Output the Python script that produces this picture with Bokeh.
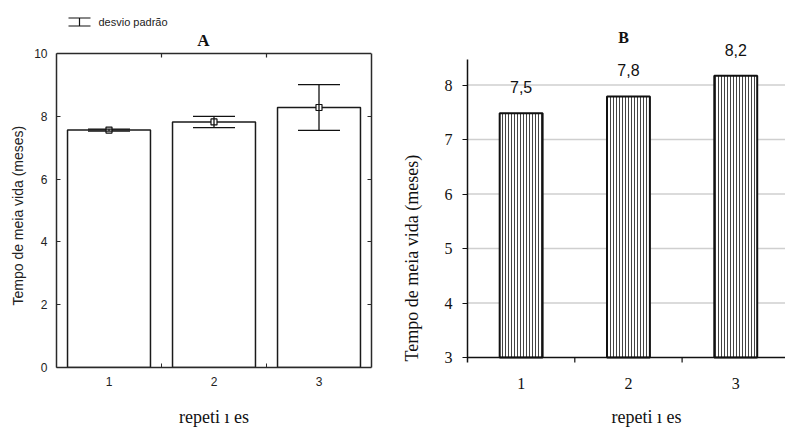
import math
from bokeh.plotting import figure
from bokeh.layouts import row
from bokeh.models import (FixedTicker, LinearAxis, Label, Whisker, TeeHead, Span, Title,
                          ColumnDataSource, CustomJSTickFormatter, Range1d)
from bokeh.core.properties import value
from bokeh.embed import file_html
from bokeh.resources import INLINE

# ---------------- data ----------------
categories = [1, 2, 3]
cat_labels = ["1", "2", "3"]
boundaries = [1.5, 2.5]
# Panel A: mean half-life (months) and standard deviation
means_a = [7.56, 7.82, 8.28]
sd_a = [0.03, 0.18, 0.73]
yticks_a = [0, 2, 4, 6, 8, 10]
# Panel B: mean half-life (months)
means_b = [7.48, 7.79, 8.17]
yticks_b = [3, 4, 5, 6, 7, 8]

ylabel = "Tempo de meia vida (meses)"
xlabel = "repeti ı es"
legend_text = "desvio padrão"

SANS = "Liberation Sans"
SERIF = "Liberation Serif"
AX = "#2a2a2a"
H = 432
FRAME_TOP = 5          # shared frame top (both plots)
FRAME_BOTTOM = 367     # shared frame bottom (both plots)

empty_fmt = CustomJSTickFormatter(code="return ''")

def side_title(text, font, size, align, offset, standoff, color="#111111"):
    return Title(text=text, text_font=font, text_font_size=size, text_font_style="normal",
                 text_color=color, align=align, offset=offset, standoff=standoff,
                 vertical_align="middle")

def spacer_axis(px, at):
    # an invisible axis that only reserves px pixels in a side panel
    s = LinearAxis(ticker=FixedTicker(ticks=[at], minor_ticks=[]), formatter=empty_fmt)
    s.axis_line_color = None
    s.major_tick_line_color = None
    s.minor_tick_line_color = None
    s.major_tick_in = 0
    s.major_tick_out = px
    s.minor_tick_out = 0
    s.major_label_standoff = 0
    return s

# ---------------- Panel A ----------------
WA = 392
A_left, A_right = 56, 371
A_axis_top, A_axis_bottom = 53, 367
A_ppu = (A_axis_bottom - A_axis_top) / 10.0
A_ppc = (A_right - A_left) / 3.0

def ax_(px):
    return 0.5 + (px - A_left) / A_ppc

def ay_(py):
    return (A_axis_bottom - py) / A_ppu

pa = figure(width=WA, height=H, output_backend="svg", toolbar_location=None,
            x_range=Range1d(0.5, 3.5), y_range=Range1d(0, ay_(FRAME_TOP)),
            min_border_left=A_left, min_border_right=WA - A_right,
            min_border_top=FRAME_TOP, min_border_bottom=H - FRAME_BOTTOM,
            x_axis_type=None, y_axis_type=None)
pa.grid.visible = False
pa.outline_line_color = None

src_a = ColumnDataSource(dict(x=categories, top=means_a,
                              upper=[m + s for m, s in zip(means_a, sd_a)],
                              lower=[m - s for m, s in zip(means_a, sd_a)]))
pa.vbar(x="x", top="top", bottom=0, width=0.79, source=src_a,
        fill_color="white", line_color="#1a1a1a", line_width=1.5)
pa.add_layout(Whisker(base="x", upper="upper", lower="lower", source=src_a, level="overlay",
                      line_color="#111111", line_width=1.3,
                      upper_head=TeeHead(size=42, line_color="#111111", line_width=1.3),
                      lower_head=TeeHead(size=42, line_color="#111111", line_width=1.3)))
pa.scatter(x="x", y="top", source=src_a, marker="square", size=6, level="overlay",
           fill_color="white", line_color="#111111", line_width=1.2)

# frame top border and inner ticks on it
ymax_a = yticks_a[-1]
pa.segment(x0=[0.5], y0=[ymax_a], x1=[3.5], y1=[ymax_a], line_color=AX, line_width=1.5)
pa.segment(x0=boundaries, y0=[ymax_a] * 2, x1=boundaries,
           y1=[ymax_a - 4 / A_ppu] * 2, line_color=AX, line_width=1.2)

xa = LinearAxis(ticker=FixedTicker(ticks=categories, minor_ticks=boundaries),
                major_label_overrides={c: l for c, l in zip(categories, cat_labels)},
                axis_label=xlabel)
xa.major_tick_in = 0
xa.major_tick_out = 0
xa.minor_tick_in = 4
xa.minor_tick_out = 0
xa.minor_tick_line_color = AX
xa.axis_line_color = AX
xa.axis_line_width = 1.5
xa.major_label_standoff = 9
xa.major_label_text_font = SANS
xa.major_label_text_font_size = "12px"
xa.major_label_text_color = "#222222"
xa.axis_label_text_font = SERIF
xa.axis_label_text_font_size = "18px"
xa.axis_label_text_font_style = "normal"
xa.axis_label_text_color = "#111111"
xa.axis_label_standoff = 18
pa.add_layout(xa, "below")

ya = LinearAxis(ticker=FixedTicker(ticks=yticks_a, minor_ticks=[]), bounds=(0, ymax_a))
ya.major_tick_in = 4
ya.major_tick_out = 0
ya.major_tick_line_color = AX
ya.axis_line_color = AX
ya.axis_line_width = 1.5
ya.major_label_standoff = 9
ya.major_label_text_font = SANS
ya.major_label_text_font_size = "12px"
ya.major_label_text_color = "#222222"
pa.add_layout(ya, "left")
pa.add_layout(side_title(ylabel, SANS, "14px", "left", 62, 10, "#222222"), "left")

ra = LinearAxis(ticker=FixedTicker(ticks=yticks_a[1:-1], minor_ticks=[]),
                formatter=empty_fmt, bounds=(0, ymax_a))
ra.major_tick_in = 4
ra.major_tick_out = 0
ra.major_tick_line_color = AX
ra.axis_line_color = AX
ra.axis_line_width = 1.5
ra.major_label_standoff = 0
pa.add_layout(ra, "right")

# title A and legend (inside the extended frame, above the box)
pa.add_layout(Label(x=ax_(203), y=ay_(40), text="A", text_font=SERIF,
                    text_font_size="17px", text_font_style="bold",
                    text_align="center", text_baseline="middle", text_color="#111111"))
leg_src = ColumnDataSource(dict(x=[ax_(79)], upper=[ay_(17.5)], lower=[ay_(25.5)]))
pa.add_layout(Whisker(base="x", upper="upper", lower="lower", source=leg_src, level="overlay",
                      line_color="#111111", line_width=1.2,
                      upper_head=TeeHead(size=22, line_color="#111111", line_width=1.2),
                      lower_head=TeeHead(size=22, line_color="#111111", line_width=1.2)))
pa.add_layout(Label(x=ax_(98), y=ay_(21.5), text=legend_text, text_font=SANS,
                    text_font_size="11px", text_align="left", text_baseline="middle",
                    text_color="#222222"))

# ---------------- Panel B ----------------
WB = 785 - WA
B_left = 467 - WA
B_axis_y = 357          # pixel row of the y=3 baseline
B_ppu = 54.5
B_ppc = 107.3

def bx_(px):
    return 0.5 + (px - WA - B_left) / B_ppc

def by_(py):
    return 3 + (B_axis_y - py) / B_ppu

pb = figure(width=WB, height=H, output_backend="svg", toolbar_location=None,
            x_range=Range1d(0.5, bx_(785)), y_range=Range1d(by_(FRAME_BOTTOM), by_(FRAME_TOP)),
            min_border_left=B_left, min_border_right=0,
            min_border_top=FRAME_TOP, min_border_bottom=H - FRAME_BOTTOM,
            x_axis_type=None, y_axis_type=None)
pb.outline_line_color = None
pb.xgrid.visible = False
pb.ygrid.visible = False

src_b = ColumnDataSource(dict(x=categories, top=means_b,
                              lab=[f"{v:.1f}".replace(".", ",") for v in means_b]))

# horizontal grid lines
for t in yticks_b[1:]:
    pb.add_layout(Span(location=t, dimension="width", line_color="#cfcfcf",
                       line_width=1.5, level="underlay"))

pb.vbar(x="x", top="top", bottom=yticks_b[0], width=0.4, source=src_b,
        fill_color="white", hatch_pattern="vertical_line", hatch_color="#444444",
        hatch_scale=3, hatch_weight=1, line_color="#111111", line_width=2)
pb.text(x="x", y="top", text="lab", source=src_b, y_offset=-26,
        text_align="center", text_baseline="middle", text_font=value(SANS),
        text_font_size="16px", text_color="#111111")

# x baseline at y=3 with outward ticks at category boundaries
pb.add_layout(Span(location=yticks_b[0], dimension="width", line_color="#111111",
                   line_width=1.5))
pb.segment(x0=boundaries, y0=[yticks_b[0]] * 2, x1=boundaries,
           y1=[yticks_b[0] - 5 / B_ppu] * 2, line_color="#111111", line_width=1.2)

yb = LinearAxis(ticker=FixedTicker(ticks=yticks_b, minor_ticks=[]),
                bounds=(yticks_b[0] - 5 / B_ppu, by_(59)))
yb.major_tick_in = 0
yb.major_tick_out = 5
yb.major_tick_line_color = "#111111"
yb.axis_line_color = "#111111"
yb.axis_line_width = 1.5
yb.major_label_standoff = 10
yb.major_label_text_font = SERIF
yb.major_label_text_font_size = "16px"
yb.major_label_text_color = "#111111"
pb.add_layout(yb, "left")
pb.add_layout(spacer_axis(14, 5), "left")
pb.add_layout(side_title(ylabel, SERIF, "18px", "left", 6, 9), "left")

xb = LinearAxis(ticker=FixedTicker(ticks=categories, minor_ticks=[]),
                major_label_overrides={c: l for c, l in zip(categories, cat_labels)})
xb.axis_line_color = None
xb.major_tick_line_color = None
xb.minor_tick_line_color = None
xb.major_tick_in = 0
xb.major_tick_out = 0
xb.major_label_standoff = 10
xb.major_label_text_font = SERIF
xb.major_label_text_font_size = "16px"
xb.major_label_text_color = "#111111"
pb.add_layout(xb, "below")
pb.add_layout(spacer_axis(14, 2), "below")
pb.add_layout(side_title(xlabel, SERIF, "18px", "left", 144, 0), "below")

pb.add_layout(Label(x=bx_(623), y=by_(37), text="B", text_font=SERIF,
                    text_font_size="16px", text_font_style="bold",
                    text_align="center", text_baseline="middle", text_color="#111111"))

layout = row(pa, pb)
open("out.html", "w").write(file_html(layout, INLINE))
